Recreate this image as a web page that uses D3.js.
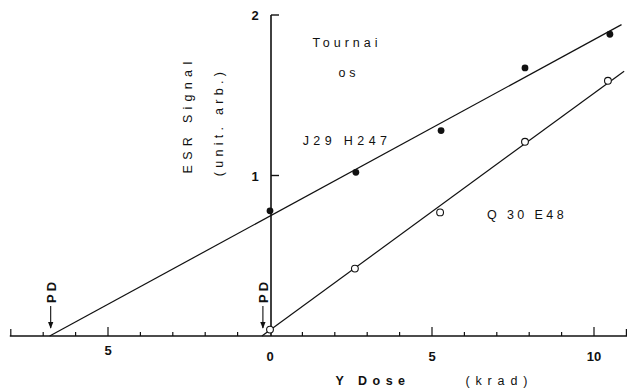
<!DOCTYPE html>
<html>
<head>
<meta charset="utf-8">
<script src="https://cdn.jsdelivr.net/npm/d3@7"></script>
<style>
  body { margin: 0; background: #fff; }
  svg { display: block; font-family: "Liberation Sans", Arial, sans-serif; }
  .lbl { fill: #111; font-size: 12.5px; }
  .num { fill: #111; font-size: 13px; font-weight: bold; }
</style>
</head>
<body>
<svg id="chart" width="627" height="390"></svg>
<script>
// readings: ESR signal (arb. units) vs gamma dose (krad)
const doseTicks = [-8, -7, -6, -5, -4, -3, -2, -1, 1, 2, 3, 4, 5, 6, 7, 8, 9, 10, 11];
const majorTicks = [-8, -5, 5, 10, 11];
const doseLabels = [-5, 0, 5, 10];
const signalTicks = [1, 2];

const filledDose = [0, 2.65, 5.28, 7.87, 10.49];
const filledSignal = [0.78, 1.02, 1.28, 1.67, 1.88];
const openDose = [0, 2.62, 5.25, 7.87, 10.43];
const openSignal = [0.04, 0.42, 0.77, 1.21, 1.59];

// fitted lines (start at the PD intercept)
const fitFilledDose = [-6.8, 10.85];
const fitFilledSignal = [0, 1.94];
const fitOpenDose = [-0.25, 10.93];
const fitOpenSignal = [0, 1.65];
const pdDose = [-6.8, -0.25];

const svg = d3.select('#chart');
const x = d3.scaleLinear().domain([0, 10]).range([270, 594]);
const y = d3.scaleLinear().domain([0, 2]).range([336, 15]);

// x axis baseline + ticks
svg.append('line')
  .attr('x1', x(-8) - 1).attr('x2', x(11) + 1)
  .attr('y1', y(0)).attr('y2', y(0))
  .attr('stroke', '#111').attr('stroke-width', 1.6);

svg.append('g').selectAll('line').data(doseTicks).join('line')
  .attr('x1', d => x(d)).attr('x2', d => x(d))
  .attr('y1', y(0))
  .attr('y2', d => y(0) - (majorTicks.includes(d) ? (Math.abs(d) === 5 || d === 10 ? 9 : 7) : 4))
  .attr('stroke', '#111').attr('stroke-width', 1.2);

svg.append('g').selectAll('text').data(doseLabels).join('text')
  .attr('class', 'num')
  .attr('x', d => x(d))
  .attr('y', d => d === -5 ? 355 : 361)
  .attr('text-anchor', 'middle')
  .text(d => Math.abs(d));

// y axis
svg.append('line')
  .attr('x1', x(0) + 1).attr('x2', x(0) + 1)
  .attr('y1', y(0)).attr('y2', y(2))
  .attr('stroke', '#111').attr('stroke-width', 1.6);

svg.append('g').selectAll('line').data(signalTicks).join('line')
  .attr('x1', x(0) + 1).attr('x2', x(0) + 9)
  .attr('y1', d => y(d)).attr('y2', d => y(d))
  .attr('stroke', '#111').attr('stroke-width', 1.4);

svg.append('g').selectAll('text').data(signalTicks).join('text')
  .attr('class', 'num')
  .attr('x', x(0) - 15)
  .attr('y', d => y(d) + 5)
  .attr('text-anchor', 'middle')
  .text(d => d);

// fitted lines
const line = d3.line().x(d => x(d[0])).y(d => y(d[1]));
svg.append('path')
  .attr('d', line(d3.zip(fitFilledDose, fitFilledSignal)))
  .attr('fill', 'none').attr('stroke', '#111').attr('stroke-width', 1.2);
svg.append('path')
  .attr('d', line(d3.zip(fitOpenDose, fitOpenSignal)))
  .attr('fill', 'none').attr('stroke', '#111').attr('stroke-width', 1.2);

// points
svg.append('g').selectAll('circle').data(d3.zip(filledDose, filledSignal)).join('circle')
  .attr('cx', d => x(d[0])).attr('cy', d => y(d[1])).attr('r', 3.4)
  .attr('fill', '#111');
svg.append('g').selectAll('circle').data(d3.zip(openDose, openSignal)).join('circle')
  .attr('cx', d => x(d[0])).attr('cy', d => y(d[1])).attr('r', 3.4)
  .attr('fill', '#fff').attr('stroke', '#111').attr('stroke-width', 1.1);

// PD markers
svg.append('defs').append('marker')
  .attr('id', 'arr').attr('viewBox', '0 0 10 10')
  .attr('refX', 9).attr('refY', 5)
  .attr('markerWidth', 6).attr('markerHeight', 6)
  .attr('orient', 'auto')
  .append('path').attr('d', 'M0,1 L10,5 L0,9 Z').attr('fill', '#111');

const pd = svg.append('g').selectAll('g').data(pdDose).join('g')
  .attr('transform', d => `translate(${x(d) + 1},0)`);
pd.append('line')
  .attr('x1', 0).attr('x2', 0)
  .attr('y1', 306).attr('y2', 328)
  .attr('stroke', '#111').attr('stroke-width', 1.1)
  .attr('marker-end', 'url(#arr)');
pd.append('text')
  .attr('class', 'num')
  .attr('transform', 'translate(5,291) rotate(-90)')
  .attr('text-anchor', 'middle')
  .attr('letter-spacing', 3)
  .text('PD');

// annotations
function label(txt, px, py, spacing, rot) {
  const t = svg.append('text').attr('class', 'lbl')
    .attr('letter-spacing', spacing)
    .attr('text-anchor', 'middle')
    .attr('transform', `translate(${px},${py})` + (rot ? ` rotate(${rot})` : ''))
    .text(txt);
  return t;
}
label('Tournai', 347, 47, 4);
label('os', 349, 77, 4);
label('J29  H247', 347, 145, 4.4);
label('Q 30  E48', 527, 219, 3.4);
label('ESR Signal', 192, 115, 5.3, -90);
label('(unit. arb.)', 223, 122, 4.3, -90);
label('Y  Dose', 373, 385, 5.5).style('font-weight', 'bold');
label('( k r a d )', 497, 385, 1.2);
</script>
</body>
</html>
